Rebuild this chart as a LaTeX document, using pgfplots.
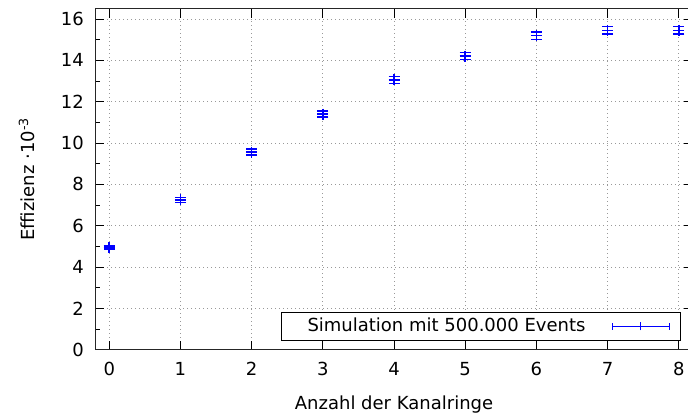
\documentclass[border=0pt]{standalone}
\usepackage{fontspec}
\setmainfont{DejaVu Sans}
\usepackage{pgfplots}
\pgfplotsset{compat=1.18}

% Efficiency vs. number of channel rings (simulation, 500k events)
\pgfplotstableread{
n   eff    err
0   4.93   0.09
1   7.25   0.12
2   9.56   0.14
3   11.40  0.15
4   13.05  0.16
5   14.20  0.17
6   15.20  0.18
7   15.45  0.18
8   15.45  0.18
}\effdata

\newcommand{\plotfont}{\fontsize{18bp}{21bp}\selectfont}

\begin{document}
\plotfont
\begin{tikzpicture}[x=1bp,y=1bp]
\useasboundingbox (0,0) rectangle (688,416);
\clip (0,0) rectangle (688,416);
\begin{axis}[
  at={(95bp,66.3bp)}, anchor=south west,
  scale only axis, width=598bp, height=341bp,
  xmin=-0.2, xmax=8.2, ymin=0, ymax=16.5,
  xtick={0,...,8}, ytick={0,2,...,16}, minor y tick num=1,
  tick align=inside, major tick length=9bp, minor tick length=5bp,
  tick style={black, line width=0.8bp},
  axis line style={black!85, line width=1bp},
  grid=major,
  grid style={gray!80, line width=0.7bp, dash pattern=on 1bp off 3bp},
  /pgf/number format/assume math mode=true,
  ticklabel style={font=\plotfont},
  xticklabel style={yshift=-6bp},
  yticklabel style={xshift=-5bp},
  xlabel={Anzahl der Kanalringe},
  ylabel={Effizienz ·10\textsuperscript{-3}},
  label style={font=\plotfont},
  xlabel style={yshift=-8bp},
  ylabel style={yshift=14bp},
  legend plot pos=right,
  legend style={at={(axis cs:8.03,0.42)}, anchor=south east,
    draw=black, line width=0.8bp, inner ysep=4bp,
    font=\plotfont},
  legend image code/.code={
    \draw[blue, line width=1.2bp] (0bp,0bp) -- (57bp,0bp);
    \draw[blue, line width=1.2bp] (0bp,-3.5bp) -- (0bp,3.5bp)
      (57bp,-3.5bp) -- (57bp,3.5bp) (28.5bp,-4bp) -- (28.5bp,4bp);
    \path (65bp,0bp);
  },
]
\addplot[blue, only marks, mark=+, mark size=5.5bp,
  mark options={line width=1.5bp},
  error bars/.cd, y dir=both, y explicit,
  error bar style={blue, line width=1.5bp},
  error mark options={rotate=90, mark size=5.5bp, line width=1.5bp, blue}]
  table[x=n, y=eff, y error=err] {\effdata};
\addlegendentry{\hspace*{21bp}Simulation mit 500.000 Events\hspace*{24bp}}
\end{axis}
\end{tikzpicture}
\end{document}
